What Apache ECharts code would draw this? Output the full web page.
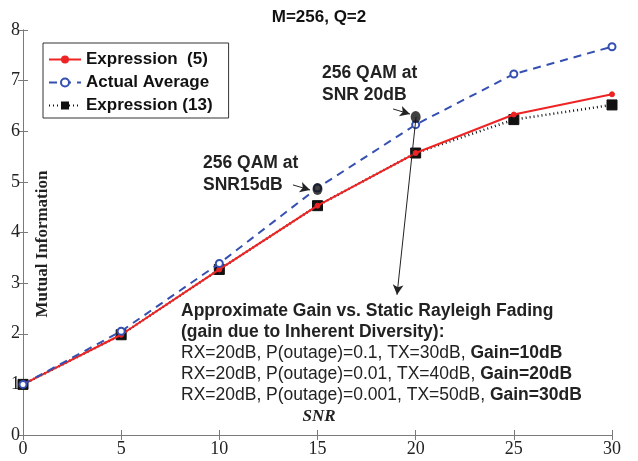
<!DOCTYPE html>
<html><head><meta charset="utf-8">
<script src="https://cdn.jsdelivr.net/npm/echarts@6/dist/echarts.min.js"></script>
<style>html,body{margin:0;padding:0;background:#fff}#c{width:638px;height:461px}</style>
</head><body><div id="c"></div>
<script>
var snr = [0, 5, 10, 15, 20, 25, 30];
var expr5 = [1.0, 1.98, 3.27, 4.53, 5.57, 6.33, 6.73];
var actualAvg = [1.0, 2.05, 3.39, 4.88, 6.13, 7.13, 7.67];
var expr13 = [1.0, 1.98, 3.27, 4.53, 5.57, 6.23, 6.52];
var qamPoints = [[15, 4.86], [20, 6.28]];
var arrows = [
  [[13.75, 4.94], [14.62, 4.84]],
  [[18.85, 6.44], [19.71, 6.34]],
  [[20.02, 6.28], [19.05, 2.77]]
];
var xTicks = [0, 5, 10, 15, 20, 25, 30];
var yTicks = [0, 1, 2, 3, 4, 5, 6, 7, 8];

function pairs(ys) { return snr.map(function (x, i) { return [x, ys[i]]; }); }

var chart = echarts.init(document.getElementById('c'), null, {renderer: 'canvas'});
var sans = 'Liberation Sans, Arial, sans-serif';
var serif = 'Liberation Serif, Times New Roman, serif';
var axisColor = '#7a7a7a';

var option = {
  animation: false,
  backgroundColor: '#fff',
  title: {
    text: 'M=256, Q=2', left: 'center', top: 4,
    textStyle: {fontFamily: sans, fontWeight: 'bold', fontSize: 17, color: '#111'}
  },
  grid: {left: 23, right: 26, top: 30, bottom: 26, containLabel: false},
  legend: {
    orient: 'vertical', left: 43, top: 43,
    backgroundColor: '#fff', borderColor: '#333', borderWidth: 1,
    padding: [8, 16, 4, 5], itemGap: 6, itemWidth: 32, itemHeight: 10,
    textStyle: {fontFamily: sans, fontWeight: 'bold', fontSize: 17, color: '#111'},
    data: ['Expression  (5)', 'Actual Average', 'Expression (13)']
  },
  xAxis: [{
    type: 'value', min: 0, max: 30, interval: 5,
    axisLine: {show: true, lineStyle: {color: axisColor, width: 1}},
    axisTick: {show: true, inside: true, length: 5, lineStyle: {color: axisColor}},
    axisLabel: {fontFamily: serif, fontSize: 18, color: '#222', margin: 5},
    splitLine: {show: false}
  }, {
    type: 'value', min: 0, max: 30, interval: 5, position: 'top',
    axisLine: {show: true, lineStyle: {color: axisColor, width: 1}},
    axisTick: {show: true, inside: true, length: 5, lineStyle: {color: axisColor}},
    axisLabel: {show: false}, splitLine: {show: false}
  }],
  yAxis: [{
    type: 'value', min: 0, max: 8, interval: 1,
    axisLine: {show: true, lineStyle: {color: axisColor, width: 1}},
    axisTick: {show: true, inside: true, length: 5, lineStyle: {color: axisColor}},
    axisLabel: {fontFamily: serif, fontSize: 18, color: '#222', margin: 3},
    splitLine: {show: false}
  }, {
    type: 'value', min: 0, max: 8, interval: 1, position: 'right',
    axisLine: {show: true, lineStyle: {color: axisColor, width: 1}},
    axisTick: {show: true, inside: true, length: 5, lineStyle: {color: axisColor}},
    axisLabel: {show: false}, splitLine: {show: false}
  }],
  series: [{
    name: 'Expression (13)', type: 'line', data: pairs(expr13), z: 2,
    symbol: 'rect', symbolSize: 10, showAllSymbol: true,
    lineStyle: {color: '#111', width: 2.5, type: [1, 3]},
    itemStyle: {color: '#111', borderColor: '#111'}
  }, {
    name: 'Expression  (5)', type: 'line', data: pairs(expr5), z: 3,
    symbol: 'circle', symbolSize: 5, showAllSymbol: true,
    lineStyle: {color: '#ee2424', width: 2},
    itemStyle: {color: '#ee2424', borderColor: '#ee2424'}
  }, {
    name: 'Actual Average', type: 'line', data: pairs(actualAvg), z: 4,
    symbol: 'emptyCircle', symbolSize: 7, showAllSymbol: true,
    lineStyle: {color: '#3550b0', width: 2, type: [8, 6]},
    itemStyle: {color: '#3550b0', borderColor: '#3550b0', borderWidth: 1.5}
  }, {
    name: 'qam', type: 'scatter', data: qamPoints, z: 6,
    symbol: 'circle', symbolSize: [10, 12],
    itemStyle: {color: '#111'}, silent: true,
    markLine: {
      silent: true, symbol: ['none', 'arrow'], symbolSize: [8, 10],
      label: {show: false},
      lineStyle: {color: '#222', width: 1, type: 'solid'},
      data: arrows.map(function (a) { return [{coord: a[0]}, {coord: a[1]}]; })
    }
  }],
  graphic: [{
    type: 'text', left: 322, top: 62, z: 10,
    style: {text: '256 QAM at\nSNR 20dB', font: 'bold 17.5px ' + sans, fill: '#222', lineHeight: 22}
  }, {
    type: 'text', left: 203, top: 152, z: 10,
    style: {text: '256 QAM at\nSNR15dB', font: 'bold 17.5px ' + sans, fill: '#222', lineHeight: 22}
  }, {
    type: 'text', left: 179, top: 300, z: 10,
    style: {
      text: '{b|Approximate Gain vs. Static Rayleigh Fading}\n{b|(gain due to Inherent Diversity):}\n' +
            '{r|RX=20dB, P(outage)=0.1, TX=30dB, }{b|Gain=10dB}\n' +
            '{r|RX=20dB, P(outage)=0.01, TX=40dB, }{b|Gain=20dB}\n' +
            '{r|RX=20dB, P(outage)=0.001, TX=50dB, }{b|Gain=30dB}',
      backgroundColor: '#fff', padding: [1, 2, 0, 2],
      rich: {
        b: {fontFamily: sans, fontWeight: 'bold', fontSize: 17.5, fill: '#222', lineHeight: 21},
        r: {fontFamily: sans, fontSize: 17.5, fill: '#222', lineHeight: 21}
      }
    }
  }, {
    type: 'text', left: 'center', top: 408, z: 10,
    style: {text: 'SNR', font: 'italic bold 17px ' + serif, fill: '#222'}
  }, {
    type: 'text', x: 43, y: 244, rotation: Math.PI / 2, z: 10,
    style: {text: 'Mutual Information', font: 'bold 17px ' + serif, fill: '#222', align: 'center', verticalAlign: 'middle'}
  }]
};
chart.setOption(option);
</script></body></html>
